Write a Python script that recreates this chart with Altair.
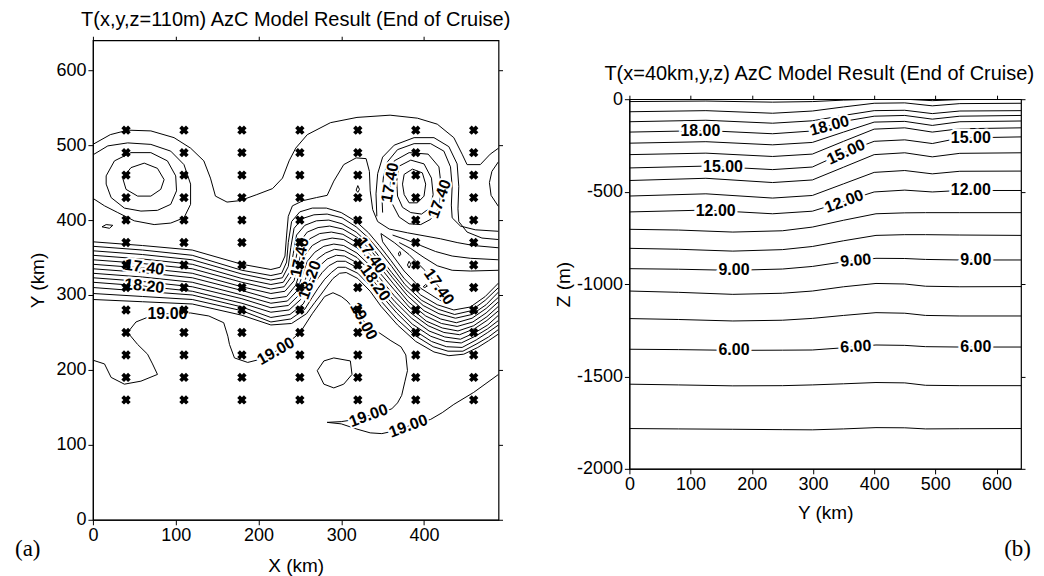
import altair as alt
import pandas as pd

# ===================== panel (a): T(x,y,z=110m), lines in km =====================
L_TOP = [(0,501),(21,514),(42,520),(70,519),(98,510),(118,496),(134,479),(142,456),(148,432),(162,424),
         (178,426),(198,434),(217,442),(229,456),(237,479),(245,496),(259,514),(287,530),(319,537),(359,540),
         (392,536),(416,528),(436,510),(446,488),(452,474),(468,474),(480,488),(490,496)]
E1 = [(36,456),(46,470),(62,476),(78,469),(86,454),(82,441),(70,432),(54,432),(40,441),(36,456)]
E2 = [(16,459),(26,479),(46,490),(70,490),(90,479),(100,459),(101,439),(94,421),(78,413),(58,412),
      (38,416),(22,430),(16,448),(16,459)]
E3 = [(0,487),(18,499),(42,503),(70,501),(94,492),(110,474),(118,448),(118,421),(110,403),(94,396),
      (74,394),(50,399),(30,410),(14,419),(0,429)]
BLOB_E = [(11,391),(16,394),(24,393),(20,389),(11,391)]
R1 = [(490,478),(482,465),(479,450),(481,433),(490,418)]
W1 = [(376,461),(386,468),(398,463),(402,448),(400,432),(392,423),(382,423),(376,434),(374,448),(376,461)]
W2 = [(370,472),(384,480),(400,475),(409,456),(411,434),(407,416),(397,408),(384,410),(374,417),(368,432),
      (367,452),(370,472)]
W3 = [(364,479),(382,490),(405,488),(418,471),(421,443),(418,416),(408,401),(396,394),(382,395),(370,404),
      (362,421),(359,441),(360,463),(364,479)]
W4 = [(350,410),(349,435),(351,458),(356,478),(368,494),(388,502),(408,502),(424,492),(432,471),(434,445),
      (433,420),(434,403),(444,392),(462,387),(490,385)]
W5 = [(343,405),(342,435),(344,462),(350,484),(364,500),(388,510),(412,510),(430,498),(440,475),(442,445),
      (441,415),(442,398),(452,384),(470,376),(490,374)]
M1 = [(0,371),(60,366),(120,360),(180,341),(215,334),(226,337),(232,352),(234,380),(236,405),(241,419),
      (254,426),(270,430),(283,433),(291,452),(303,474),(318,483),(330,482),(334,465),(335,439),(338,414),
      (344,398),(358,388),(380,383),(400,379),(420,375),(440,370),(460,366),(490,363)]
S2 = [(362,380),(378,374),(396,366),(414,358),(434,352),(456,349),(490,347)]
S3 = [(370,370),(384,362),(400,350),(416,339),(434,333),(456,332),(490,333)]
TONGUE = [(348,382),(364,370),(382,354),(400,334),(414,316),(424,303),(431,295),(433,290),(428,288),
          (416,295),(396,309),(376,332),(360,356),(350,371),(348,382)]
BLOB_1 = [(318,440),(320,446),(322,441),(320,437),(318,440)]
BLOB_2 = [(369,356),(371,358),(372,354),(370,352),(369,356)]
BLOB_3 = [(380,340),(382,345),(384,341),(382,336),(380,340)]
BLOB_4 = [(399,311),(402,314),(404,312),(401,310),(399,311)]
LOOP_S = [(271,199),(279,212),(291,216),(311,212),(313,194),(303,181),(291,176),(279,181),(271,199)]
T19 = [(0,213),(14,208),(22,190),(38,181),(58,185),(78,194),(72,208),(66,221),(54,234),(42,250),(52,264),
       (70,272),(90,275),(118,276),(140,272),(158,263),(163,245),(165,234),(171,216),(187,210),(205,215),
       (221,225),(235,236),(243,243),(251,251),(265,275),(280,298),(290,303),(300,298),(307,292),(318,278),
       (327,265),(338,255),(348,248),(360,239),(372,231),(378,220),(380,199),(377,185),(373,166),(368,156),
       (361,148),(347,143),(333,139),(318,134),(300,131),(283,130),(300,128),(319,121),(335,116),(349,115),
       (366,119),(381,125),(396,130),(408,134),(422,143),(436,154),(460,170),(490,194)]
B0 = [(0,365),(60,360),(120,353),(180,333),(215,326),(228,329),(234,344),(236,370),(240,398),(250,411),
      (265,416),(282,416),(300,410),(318,398),(333,383),(346,366),(360,346),(376,322),(396,300),(416,287),
      (436,280),(456,284),(474,298),(490,316)]
B1 = [(0,359),(60,354),(120,347),(180,328),(215,320),(229,323),(236,338),(239,363),(243,389),(253,402),
      (267,407),(283,408),(301,403),(318,391),(333,376),(346,359),(361,338),(377,314),(397,293),(417,281),
      (437,274),(457,279),(474,293),(490,310)]
B2 = [(0,353),(60,348),(120,341),(180,322),(215,314),(230,317),(238,331),(242,355),(246,380),(256,393),
      (270,399),(285,400),(301,395),(318,384),(333,369),(346,351),(361,330),(378,307),(399,286),(418,275),
      (438,269),(458,274),(475,287),(490,304)]
B3 = [(0,347),(60,342),(120,335),(180,317),(215,308),(231,311),(240,325),(245,348),(250,371),(259,384),
      (272,390),(286,392),(302,388),(319,377),(334,362),(347,344),(362,323),(380,299),(400,279),(420,268),
      (439,263),(458,269),(475,282),(490,297)]
B4 = [(0,341),(60,336),(120,329),(180,311),(215,302),(232,305),(243,319),(248,341),(253,362),(262,375),
      (274,382),(288,384),(302,381),(319,370),(334,355),(347,337),(363,315),(381,291),(402,272),(421,262),
      (440,258),(459,264),(475,276),(490,291)]
B5 = [(0,335),(60,330),(120,323),(180,306),(215,295),(234,298),(245,313),(251,334),(256,353),(265,366),
      (276,373),(289,376),(303,374),(319,363),(334,347),(347,329),(364,307),(382,284),(403,265),(422,256),
      (441,252),(460,259),(476,271),(490,285)]
B6 = [(0,329),(60,324),(120,317),(180,300),(215,289),(235,292),(247,306),(253,326),(259,345),(268,357),
      (279,365),(291,368),(303,366),(319,356),(334,340),(347,322),(364,299),(384,276),(405,259),(424,250),
      (443,247),(461,255),(476,266),(490,279)]
B7 = [(0,323),(60,318),(120,311),(180,295),(215,283),(236,286),(249,300),(256,319),(262,336),(271,348),
      (281,356),(292,361),(304,359),(319,350),(334,333),(347,314),(365,291),(385,269),(406,252),(425,244),
      (444,241),(462,250),(477,260),(490,273)]
B8 = [(0,317),(60,312),(120,305),(180,289),(215,277),(237,280),(251,294),(259,312),(265,327),(274,339),
      (283,348),(294,353),(304,352),(319,343),(334,326),(347,307),(366,283),(386,261),(408,245),(426,238),
      (445,236),(462,245),(477,255),(490,266)]
B9 = [(0,310),(60,305),(120,300),(180,284),(215,270),(238,274),(254,288),(262,305),(269,318),(277,330),
      (285,339),(295,345),(305,345),(320,336),(335,319),(348,300),(367,276),(388,253),(409,238),(427,231),
      (446,230),(463,240),(477,250),(490,260)]
B10 = [(0,302),(60,298),(120,294),(180,279),(215,264),(239,268),(256,281),(265,297),(272,309),(280,321),
       (288,330),(296,337),(305,337),(320,329),(335,312),(348,292),(367,268),(389,246),(411,231),(429,225),
       (447,225),(464,235),(478,244),(490,254)]
B11 = [(0,294),(60,291),(120,288),(180,273),(215,260),(240,262),(258,275),(268,290),(275,300),(283,312),
       (290,322),(298,329),(306,330),(320,322),(335,305),(348,285),(368,260),(390,238),(412,224),(430,219),
       (448,221),(465,230),(478,239),(490,248)]

LEFT_LINES = [("top", L_TOP), ("e1", E1), ("e2", E2), ("e3", E3), ("blobE", BLOB_E), ("r1", R1),
              ("w1", W1), ("w2", W2), ("w3", W3), ("w4", W4), ("w5", W5), ("m1", M1), ("s2", S2),
              ("s3", S3), ("tongue", TONGUE), ("b1x", BLOB_1), ("b2x", BLOB_2), ("b3x", BLOB_3),
              ("b4x", BLOB_4), ("loop", LOOP_S), ("t19", T19), ("k0", B0), ("k1", B1), ("k2", B2),
              ("k3", B3), ("k4", B4), ("k5", B5), ("k6", B6), ("k7", B7), ("k8", B8), ("k9", B9),
              ("k10", B10), ("k11", B11)]

STATION_X = [40, 110, 180, 250, 320, 390, 460]
STATION_Y = [520, 490, 460, 430, 400, 370, 340, 310, 280, 250, 220, 190, 160]

A_LABEL_TEXT = ["17.40", "18.20", "19.00", "19.00", "19.00", "19.00", "19.00", "17.40", "18.20",
                "17.40", "18.20", "17.40", "17.40", "17.40"]
A_LABEL_X = [62, 62, 90, 221, 327, 333, 381, 250, 262, 336, 341, 359, 419, 418]
A_LABEL_Y = [337, 312, 275, 225, 265, 139, 125, 350, 320, 353, 316, 450, 428, 311]
A_LABEL_ANGLE = [8, 6, 0, 330, 62, 340, 340, 282, 290, 55, 55, 280, 290, 55]

# ===================== panel (b): T(x=40km,y,z) =====================
RY_TOP = [0, 125, 234, 299, 350, 400, 450, 495, 540, 640]
T21 = [-13, -10, -16, -13, -5, 0, 0, -8, -2, 0]
T20 = [-68, -62, -76, -64, -42, -22, -20, -36, -24, -22]
T19Z = [-122, -114, -130, -117, -88, -62, -60, -78, -64, -62]
T18 = [-178, -170, -187, -172, -120, -92, -88, -108, -92, -88]
T17 = [-238, -230, -247, -234, -178, -124, -120, -142, -122, -118]
T16 = [-300, -292, -310, -297, -228, -162, -155, -178, -160, -155]
T15 = [-372, -362, -381, -367, -290, -228, -220, -240, -210, -204]
T14 = [-440, -428, -451, -437, -368, -300, -290, -312, -293, -290]
T13 = [-524, -512, -535, -521, -458, -396, -386, -404, -390, -389]
T12 = [-610, -600, -620, -606, -554, -502, -492, -502, -494, -494]
RY_LOW = [0, 80, 169, 250, 299, 350, 403, 450, 484, 540, 640]
T11 = [-704, -708, -719, -712, -692, -655, -620, -615, -614, -614, -614]
T10 = [-807, -812, -822, -814, -797, -766, -737, -733, -733, -735, -737]
T9 = [-917, -920, -926, -919, -905, -880, -861, -862, -867, -870, -870]
T8 = [-1038, -1045, -1056, -1050, -1038, -1015, -997, -1000, -1012, -1015, -1014]
T7 = [-1187, -1192, -1200, -1196, -1186, -1170, -1155, -1158, -1170, -1173, -1173]
T6 = [-1353, -1355, -1359, -1358, -1357, -1345, -1330, -1332, -1339, -1341, -1341]
T5 = [-1542, -1546, -1551, -1550, -1546, -1540, -1533, -1535, -1548, -1550, -1550]
T4 = [-1782, -1784, -1786, -1788, -1789, -1784, -1777, -1778, -1784, -1783, -1782]

RIGHT_TOP = [("21", T21), ("20", T20), ("19", T19Z), ("18", T18), ("17", T17), ("16", T16),
             ("15", T15), ("14", T14), ("13", T13), ("12", T12)]
RIGHT_LOW = [("11", T11), ("10", T10), ("9", T9), ("8", T8), ("7", T7), ("6", T6), ("5", T5), ("4", T4)]

B_LABEL_TEXT = ["18.00", "18.00", "15.00", "15.00", "15.00", "12.00", "12.00", "12.00",
                "9.00", "9.00", "9.00", "6.00", "6.00", "6.00"]
B_LABEL_X = [116, 327, 153, 354, 558, 141, 351, 558, 171, 370, 566, 171, 370, 566]
B_LABEL_Y = [-171, -144, -367, -286, -209, -603, -553, -494, -926, -873, -870, -1359, -1339, -1341]
B_LABEL_ANGLE = [0, 345, 0, 335, 0, 0, 340, 0, 0, 355, 0, 0, 357, 0]

# ===================== build tables =====================
rows = []
for name, pts in LEFT_LINES:
    for i, (x, y) in enumerate(pts):
        rows.append({"line": name, "ord": i, "x": x, "y": y})
left_lines = pd.DataFrame(rows)

stations = pd.DataFrame([{"x": sx, "y": sy} for sx in STATION_X for sy in STATION_Y])
a_labels = pd.DataFrame({"text": A_LABEL_TEXT, "x": A_LABEL_X, "y": A_LABEL_Y, "angle": A_LABEL_ANGLE})

rows = []
for name, zs in RIGHT_TOP:
    for i, (yk, z) in enumerate(zip(RY_TOP, zs)):
        rows.append({"line": name, "ord": i, "x": yk, "y": z})
for name, zs in RIGHT_LOW:
    for i, (yk, z) in enumerate(zip(RY_LOW, zs)):
        rows.append({"line": name, "ord": i, "x": yk, "y": z})
right_lines = pd.DataFrame(rows)
b_labels = pd.DataFrame({"text": B_LABEL_TEXT, "x": B_LABEL_X, "y": B_LABEL_Y, "angle": B_LABEL_ANGLE})

FONT = "Liberation Sans"
PLAIN = "'' + datum.value"
one = pd.DataFrame({"v": [0]})

# ===================== panel (a) =====================
ax_s = alt.Scale(domain=[0, 490], nice=False, zero=False)
ay_s = alt.Scale(domain=[0, 640], nice=False, zero=False)
ax_main = alt.Axis(values=[0, 100, 200, 300, 400], title="X (km)", labelFlush=False, titlePadding=12,
                   labelExpr=PLAIN)
ay_main = alt.Axis(values=[0, 100, 200, 300, 400, 500, 600], title="Y (km)", labelFlush=False,
                   titlePadding=8, labelExpr=PLAIN)

a_lines = alt.Chart(left_lines).mark_line(color="black", strokeWidth=1, clip=True).encode(
    x=alt.X("x:Q", scale=ax_s, axis=ax_main), y=alt.Y("y:Q", scale=ay_s, axis=ay_main),
    detail="line:N", order="ord:Q")
a_mirror = alt.Chart(stations).mark_point(opacity=0).encode(
    x=alt.X("x:Q", scale=ax_s, axis=alt.Axis(orient="top", values=[0, 100, 200, 300, 400], labels=False,
                                               title=None, domain=False, tickSize=4)),
    y=alt.Y("y:Q", scale=ay_s, axis=alt.Axis(orient="right", values=[0, 100, 200, 300, 400, 500, 600],
                                               labels=False, title=None, domain=False, tickSize=4)))
a_halo = alt.Chart(a_labels).mark_text(font=FONT, fontSize=16, fontWeight="bold", color="white",
                                       stroke="white", strokeWidth=4).encode(
    x=alt.X("x:Q", scale=ax_s, axis=None), y=alt.Y("y:Q", scale=ay_s, axis=None),
    text="text:N", angle=alt.Angle("angle:Q", scale=None))
a_text = alt.Chart(a_labels).mark_text(font=FONT, fontSize=16, fontWeight="bold", color="black").encode(
    x=alt.X("x:Q", scale=ax_s, axis=None), y=alt.Y("y:Q", scale=ay_s, axis=None),
    text="text:N", angle=alt.Angle("angle:Q", scale=None))
a_cross = alt.Chart(stations).mark_point(shape="cross", filled=True, size=90, angle=45, color="black",
                                         opacity=1).encode(
    x=alt.X("x:Q", scale=ax_s, axis=None), y=alt.Y("y:Q", scale=ay_s, axis=None))
a_tag = alt.Chart(one).mark_text(text="(a)", font="Liberation Serif", fontSize=23, align="left",
                                 baseline="middle", color="black").encode(
    x=alt.value(-78), y=alt.value(509))

left = alt.layer(a_lines, a_mirror, a_halo, a_text, a_cross, a_tag).resolve_axis(
    x="independent", y="independent").properties(
    width=406, height=480,
    title=alt.TitleParams("T(x,y,z=110m) AzC Model Result (End of Cruise)"))

# ===================== panel (b) =====================
bx_s = alt.Scale(domain=[0, 640], nice=False, zero=False)
by_s = alt.Scale(domain=[-2000, 0], nice=False, zero=False)
bx_main = alt.Axis(values=[0, 100, 200, 300, 400, 500, 600], title="Y (km)", labelFlush=False,
                   titlePadding=10, labelExpr=PLAIN)
by_main = alt.Axis(values=[0, -500, -1000, -1500, -2000], title="Z (m)", labelFlush=False, titlePadding=3,
                   labelExpr=PLAIN)

b_lines = alt.Chart(right_lines).mark_line(color="black", strokeWidth=1, clip=True).encode(
    x=alt.X("x:Q", scale=bx_s, axis=bx_main), y=alt.Y("y:Q", scale=by_s, axis=by_main),
    detail="line:N", order="ord:Q")
b_mirror = alt.Chart(b_labels).mark_point(opacity=0).encode(
    x=alt.X("x:Q", scale=bx_s, axis=alt.Axis(orient="top", values=[0, 100, 200, 300, 400, 500, 600],
                                               labels=False, title=None, domain=False, tickSize=4)),
    y=alt.Y("y:Q", scale=by_s, axis=alt.Axis(orient="right", values=[0, -500, -1000, -1500, -2000],
                                               labels=False, title=None, domain=False, tickSize=4)))
b_halo = alt.Chart(b_labels).mark_text(font=FONT, fontSize=16, fontWeight="bold", color="white",
                                       stroke="white", strokeWidth=5).encode(
    x=alt.X("x:Q", scale=bx_s, axis=None), y=alt.Y("y:Q", scale=by_s, axis=None),
    text="text:N", angle=alt.Angle("angle:Q", scale=None))
b_text = alt.Chart(b_labels).mark_text(font=FONT, fontSize=16, fontWeight="bold", color="black").encode(
    x=alt.X("x:Q", scale=bx_s, axis=None), y=alt.Y("y:Q", scale=by_s, axis=None),
    text="text:N", angle=alt.Angle("angle:Q", scale=None))
b_tag = alt.Chart(one).mark_text(text="(b)", font="Liberation Serif", fontSize=23, align="right",
                                 baseline="middle", color="black").encode(
    x=alt.value(402), y=alt.value(450))

right = alt.layer(b_lines, b_mirror, b_halo, b_text, b_tag).resolve_axis(
    x="independent", y="independent").properties(
    width=392, height=370,
    title=alt.TitleParams("T(x=40km,y,z) AzC Model Result (End of Cruise)", dx=-6))

spacer = alt.Chart(one).mark_point(opacity=0).encode(x=alt.value(0), y=alt.value(0)).properties(
    width=392, height=1, view=alt.ViewBackground(stroke=None))

chart = alt.hconcat(left, alt.vconcat(spacer, right, spacing=20), spacing=41).properties(
    padding={"left": 6, "top": 0, "right": 0, "bottom": 0}
).configure_view(stroke="black", strokeWidth=1.2).configure_axis(
    labelFont=FONT, labelFontSize=18, titleFont=FONT, titleFontSize=19, titleFontWeight="normal",
    labelColor="black", titleColor="black", domainColor="black", tickColor="black", grid=False,
    tickSize=5, labelPadding=2
).configure_title(font=FONT, fontSize=20, fontWeight="normal", anchor="middle", offset=6, color="black")

chart.save("out.html", embed_options={"renderer": "svg", "actions": False})
